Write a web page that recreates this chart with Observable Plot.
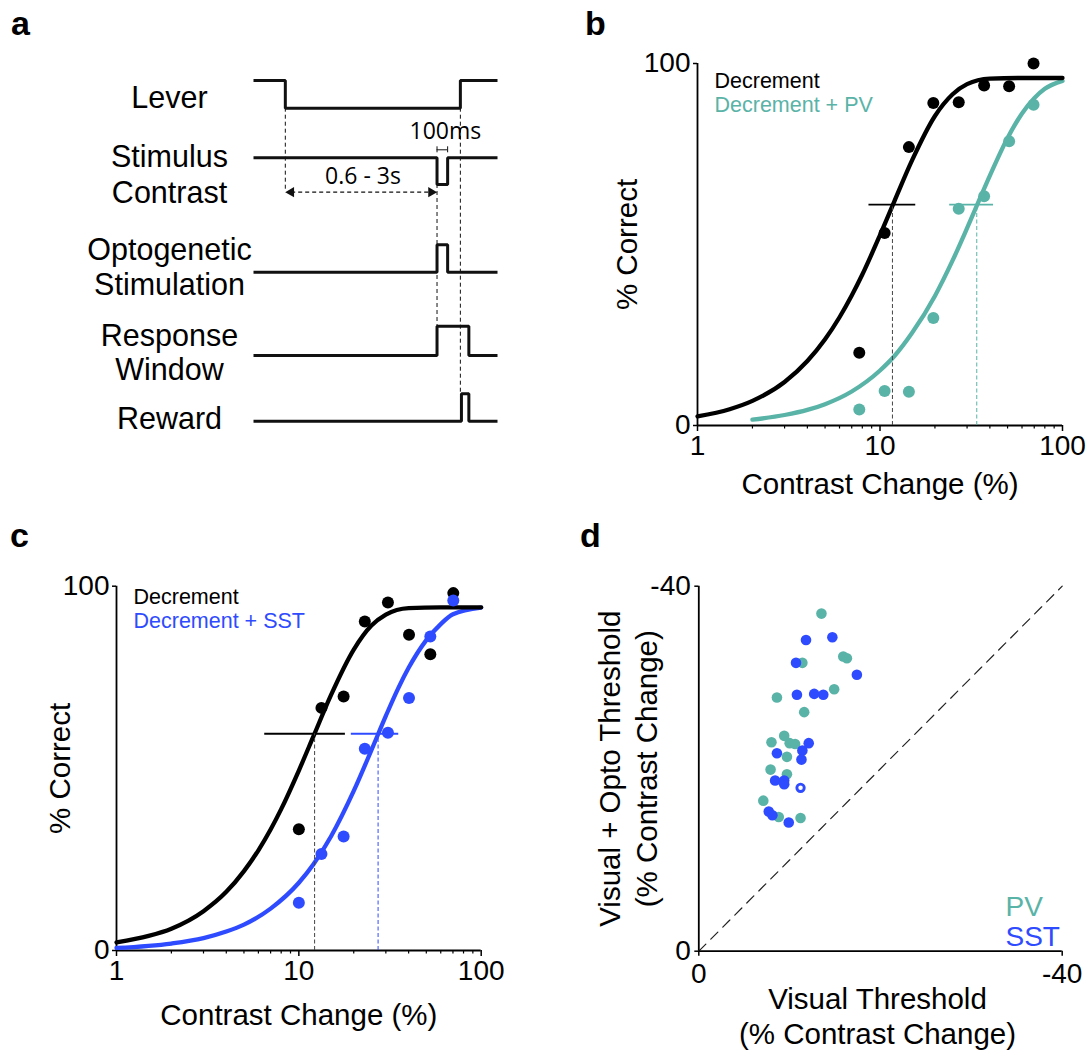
<!DOCTYPE html>
<html>
<head>
<meta charset="utf-8">
<script src="https://cdn.jsdelivr.net/npm/d3@7"></script>
<script src="https://cdn.jsdelivr.net/npm/@observablehq/plot@0.6"></script>
<style>
  body { margin: 0; background: #fff; }
  #fig { position: relative; width: 1090px; height: 1051px; background: #fff;
         font-family: "Liberation Sans", Arial, Helvetica, sans-serif; color: #000; }
  .panel { position: absolute; }
  .letter { position: absolute; font-weight: bold; font-size: 34px; line-height: 34px; }
</style>
</head>
<body>
<div id="fig"></div>
<script>
// ---------------- DATA ----------------
// Panel a: trial structure (time in ms, levels 0/1)
const channelNames = ["Lever", "Stimulus Contrast", "Optogenetic Stimulation", "Response Window", "Reward"];
const leverT  = [0, 300, 300, 1950, 1950, 2300];
const leverV  = [1, 1, 0, 0, 1, 1];
const stimT   = [0, 1730, 1730, 1830, 1830, 2300];
const stimV   = [0, 0, -1, -1, 0, 0];
const optoT   = [0, 1730, 1730, 1830, 1830, 2300];
const optoV   = [0, 0, 1, 1, 0, 0];
const respT   = [0, 1730, 1730, 2030, 2030, 2300];
const respV   = [0, 0, 1, 1, 0, 0];
const rewardT = [0, 1960, 1960, 2030, 2030, 2300];
const rewardV = [0, 0, 1, 1, 0, 0];
const delayWindow = [300, 1730];      // "0.6 - 3s"
const pulseWindow = [1730, 1830];     // "100ms"
const leverReleaseT = 1950;
const delayText = "0.6 - 3s";
const pulseText = "100ms";

// Panel b: contrast (%), % correct
const contrastB = [7.7, 10.6, 14.4, 19.6, 27, 37.2, 51, 69.4];
const decB      = [20.1, 53.2, 76.9, 89.1, 89.3, 93.9, 93.7, 100];
const pvB       = [4.4, 9.5, 9.3, 29.7, 59.9, 63.3, 78.5, 88.6];
// fitted curves
const fitDecBx = [1, 1.5, 2, 3, 4, 5, 6, 7, 8, 10, 12, 15, 20, 25, 30, 40, 60, 100];
const fitDecBy = [2.5, 4.5, 6.8, 12, 17.8, 23.8, 29.9, 35.9, 41.7, 52.6, 62, 73.3, 85.5, 91.5, 94.3, 95.8, 96, 96];
const fitPvBx  = [2, 3, 4, 5, 7, 10, 12, 15, 20, 25, 30, 35, 40, 50, 60, 70, 80, 100];
const fitPvBy  = [1.6, 2.9, 4.3, 5.9, 9.4, 15.2, 19.2, 25.6, 35.8, 45.6, 54.5, 62.3, 69, 79.4, 86.2, 90.4, 93, 95.2];
// thresholds: [CI low, threshold, CI high], level
const thrDecB = [8.7, 11.7, 15.7];
const thrPvB  = [24.1, 33.9, 41.9];
const thrLevelB = 61;

// Panel c
const contrastC = [10, 13.3, 17.6, 23, 30.8, 40.2, 52.6, 70.3];
const decC      = [33.3, 66.6, 69.7, 90.3, 95.5, 86.7, 81.3, 98.1];
const sstC      = [13.1, 26.5, 31.3, 55.4, 59.8, 69.3, 86.2, 96.1];
const fitDecCx = [1, 1.5, 2, 3, 4, 5, 6, 7, 8, 10, 12, 15, 20, 25, 30, 40, 60, 100];
const fitDecCy = [2.2, 4, 6, 10.8, 16.1, 21.8, 27.5, 33.2, 38.8, 49.4, 58.7, 70.1, 82.6, 89.2, 92.2, 94, 94.2, 94.2];
const fitSstCx = [1, 2, 3, 4, 5, 7, 10, 12, 15, 20, 25, 30, 35, 40, 50, 60, 70, 100];
const fitSstCy = [0.7, 1.9, 3.4, 5.2, 7.1, 11.5, 18.6, 23.6, 31.3, 43.8, 55, 64.4, 71.9, 77.6, 85.2, 89.6, 92.3, 94.1];
const thrDecC = [6.5, 12.2, 18.0];
const thrSstC = [19.4, 27.2, 35.3];
const thrLevelC = 59.5;

// Panel d: visual threshold vs visual + opto threshold
const pvVisual = [-13.5, -15.9, -16.3, -11.4, -14.9, -8.6, -11.6, -9.4, -8.0, -10.0, -10.6, -9.7, -7.9, -9.7, -7.1, -8.8, -11.2];
const pvOpto   = [-37.0, -32.3, -32.1, -31.6, -28.7, -27.8, -26.2, -23.6, -22.9, -22.8, -22.7, -21.3, -19.9, -19.4, -16.5, -14.7, -14.6];
const sstVisual = [-11.8, -14.7, -10.7, -17.4, -10.8, -12.7, -13.7, -12.1, -11.4, -11.3, -8.6, -8.4, -9.4, -9.4, -7.7, -8.1, -9.9];
const sstOpto   = [-34.1, -34.4, -31.6, -30.3, -28.1, -28.2, -28.1, -22.8, -22.0, -21.0, -21.7, -18.7, -18.7, -18.3, -15.3, -14.9, -14.1];
const sstOpenVisual = [-11.2];
const sstOpenOpto   = [-17.9];
const unityLine = [0, -40];

// tick labels
const logMajor = [1, 10, 100];
const logMinor = [2, 3, 4, 5, 6, 7, 8, 9, 20, 30, 40, 50, 60, 70, 80, 90];
const pctTicks = [0, 100];
const thrTicks = [0, -40];

// ---------------- STYLE ----------------
const TEAL = "#5ab3a7";
const BLUE = "#2f4bff";
const FONT = "'Liberation Sans', Arial, Helvetica, sans-serif";
const fig = document.getElementById("fig");

function place(el, left, top) {
  const d = document.createElement("div");
  d.className = "panel";
  d.style.left = left + "px";
  d.style.top = top + "px";
  d.appendChild(el);
  fig.appendChild(d);
}
function letter(t, left, top) {
  const d = document.createElement("div");
  d.className = "letter";
  d.textContent = t;
  d.style.left = left + "px";
  d.style.top = top + "px";
  fig.appendChild(d);
}
const zip = (xs, ys, extra = {}) => xs.map((x, i) => ({x, y: ys[i], ...extra}));

// ---------------- PANEL A ----------------
{
  // layout: baseline (page px) and amplitude per channel
  const layout = [
    {base: 107.7, amp: 27.7},
    {base: 157.3, amp: 26.7},
    {base: 271.7, amp: 27.4},
    {base: 355.0, amp: 29.3},
    {base: 420.7, amp: 27.4}
  ];
  const sigs = [[leverT, leverV], [stimT, stimV], [optoT, optoV], [respT, respV], [rewardT, rewardV]];
  const rows = [];
  sigs.forEach(([T, V], i) => T.forEach((t, j) => rows.push({ch: channelNames[i], t, y: layout[i].base - V[j] * layout[i].amp})));
  const labelLines = [
    {t: "Lever", y: 107}, {t: "Stimulus", y: 166}, {t: "Contrast", y: 202},
    {t: "Optogenetic", y: 259}, {t: "Stimulation", y: 294},
    {t: "Response", y: 345}, {t: "Window", y: 379}, {t: "Reward", y: 428}
  ];
  const leverLow = layout[0].base, stimLow = layout[1].base + layout[1].amp;
  const respHigh = layout[3].base - layout[3].amp, rewardHigh = layout[4].base - layout[4].amp;
  const arrowY = 191.7;
  const p = Plot.plot({
    width: 545, height: 460, marginLeft: 253, marginRight: 48, marginTop: 0, marginBottom: 0,
    x: {domain: [0, 2300], axis: null},
    y: {domain: [460, 0], axis: null},
    style: {fontFamily: FONT, fontSize: "30.5px", background: "white", color: "black", overflow: "visible"},
    marks: [
      // dashed guides
      Plot.ruleX([delayWindow[0]], {y1: leverLow, y2: arrowY, stroke: "#111", strokeWidth: 1, strokeDasharray: "4,3"}),
      Plot.ruleX([delayWindow[1]], {y1: stimLow, y2: respHigh, stroke: "#111", strokeWidth: 1, strokeDasharray: "4,3"}),
      Plot.ruleX([leverReleaseT], {y1: leverLow, y2: rewardHigh, stroke: "#111", strokeWidth: 1, strokeDasharray: "4,3"}),
      // delay arrow
      Plot.ruleY([arrowY], {x1: delayWindow[0] + 60, x2: delayWindow[1] - 60, stroke: "#111", strokeWidth: 1.3, strokeDasharray: "4,3"}),
      Plot.dot([delayWindow[0]], {x: d => d, y: arrowY, symbol: "triangle", r: 3.8, rotate: -90, dx: 5.8, fill: "#111", stroke: "none"}),
      Plot.dot([delayWindow[1]], {x: d => d, y: arrowY, symbol: "triangle", r: 3.8, rotate: 90, dx: -5.8, fill: "#111", stroke: "none"}),
      Plot.text([delayText], {x: (delayWindow[0] + delayWindow[1]) / 2 + 17, y: 183, lineAnchor: "bottom", fontFamily: "'Open Sans', sans-serif", fontSize: 23}),
      // 100 ms bracket
      Plot.ruleY([149.3], {x1: pulseWindow[0], x2: pulseWindow[1], stroke: "#111", strokeWidth: 1}),
      Plot.ruleX(pulseWindow, {y1: 146.3, y2: 152.3, stroke: "#111", strokeWidth: 1}),
      Plot.text([pulseText], {x: (pulseWindow[0] + pulseWindow[1]) / 2, dx: 3, y: 138.5, lineAnchor: "bottom", fontFamily: "'Open Sans', sans-serif", fontSize: 23}),
      // traces
      Plot.line(rows, {x: "t", y: "y", z: "ch", stroke: "#111", strokeWidth: 3, strokeLinejoin: "miter", strokeLinecap: "butt"}),
      // labels
      Plot.text(labelLines, {frameAnchor: "left", dx: -84, y: "y", text: "t", textAnchor: "middle", lineAnchor: "bottom"})
    ]
  });
  place(p, 0, 0);
}

// ---------------- PSYCHOMETRIC PANELS ----------------
function psycho(opts) {
  const {left, top, width, height, mL, mR, mT, mB, pts, fits, thr, thrLevel, legend, legendDy, xTitleDy, yTitleDx} = opts;
  const marks = [
    // axis lines
    Plot.ruleX([1], {y1: 0, y2: 100, stroke: "black", strokeWidth: 1.8}),
    Plot.ruleY([0], {x1: 1, x2: 100, stroke: "black", strokeWidth: 1.8}),
    Plot.axisX({ticks: logMajor, tickSize: 6, tickPadding: 4, tickFormat: d => String(d), label: null, strokeWidth: 1.5}),
    Plot.axisX({ticks: logMinor, tickSize: 3.5, tickFormat: () => "", label: null, strokeWidth: 1.2}),
    Plot.axisY({ticks: pctTicks, tickSize: 4, tickPadding: 3, tickFormat: d => String(d), label: null, strokeWidth: 1.5}),
    Plot.text(["Contrast Change (%)"], {frameAnchor: "bottom", dy: xTitleDy, lineAnchor: "bottom", fontSize: 29.5}),
    Plot.text(["% Correct"], {frameAnchor: "left", dx: yTitleDx, rotate: -90, lineAnchor: "middle", textAnchor: "middle", fontSize: 29.5})
  ];
  // fitted curves
  fits.forEach(f => marks.push(Plot.line(zip(f.x, f.y), {x: "x", y: "y", stroke: f.color, strokeWidth: 4.3, curve: "monotone-x"})));
  // threshold bars and dashed drops
  thr.forEach(t => {
    marks.push(Plot.ruleY([thrLevel], {x1: t.v[0], x2: t.v[2], stroke: t.color, strokeWidth: 1.8}));
    marks.push(Plot.ruleX([t.v[1]], {y1: 0, y2: thrLevel, stroke: t.dash, strokeWidth: 1, strokeDasharray: "4,2.5"}));
  });
  // points
  pts.forEach(s => marks.push(Plot.dot(zip(s.x, s.y), {x: "x", y: "y", r: 6, fill: s.color, stroke: "none"})));
  // legend
  legend.forEach((l, i) => marks.push(Plot.text([l.t], {frameAnchor: "top-left", dx: 17, dy: legendDy[i], lineAnchor: "bottom", textAnchor: "start", fill: l.color, fontSize: 21.5})));
  const p = Plot.plot({
    width, height, marginLeft: mL, marginRight: mR, marginTop: mT, marginBottom: mB,
    x: {type: "log", domain: [1, 100]},
    y: {domain: [0, 100]},
    style: {fontFamily: FONT, fontSize: "28px", background: "white", color: "black", overflow: "visible"},
    marks
  });
  place(p, left, top);
}

psycho({
  left: 580, top: 30, width: 510, height: 480, mL: 117, mR: 28, mT: 33, mB: 85,
  pts: [{x: contrastB, y: decB, color: "black"}, {x: contrastB, y: pvB, color: TEAL}],
  fits: [{x: fitPvBx, y: fitPvBy, color: TEAL}, {x: fitDecBx, y: fitDecBy, color: "black"}],
  thr: [{v: thrDecB, color: "black", dash: "#444"}, {v: thrPvB, color: TEAL, dash: TEAL}],
  thrLevel: thrLevelB,
  legend: [{t: "Decrement", color: "black"}, {t: "Decrement + PV", color: TEAL}],
  legendDy: [24, 48.7], xTitleDy: 68, yTitleDx: -69.5
});

psycho({
  left: 0, top: 560, width: 510, height: 491, mL: 116, mR: 29.3, mT: 25.7, mB: 101,
  pts: [{x: contrastC, y: decC, color: "black"}, {x: contrastC, y: sstC, color: BLUE}],
  fits: [{x: fitSstCx, y: fitSstCy, color: BLUE}, {x: fitDecCx, y: fitDecCy, color: "black"}],
  thr: [{v: thrDecC, color: "black", dash: "#444"}, {v: thrSstC, color: BLUE, dash: BLUE}],
  thrLevel: thrLevelC,
  legend: [{t: "Decrement", color: "black"}, {t: "Decrement + SST", color: BLUE}],
  legendDy: [17.5, 41.5], xTitleDy: 74.3, yTitleDx: -56
});

// ---------------- PANEL D ----------------
{
  const p = Plot.plot({
    width: 510, height: 491, marginLeft: 118.3, marginRight: 28.3, marginTop: 25.7, marginBottom: 100.3,
    x: {domain: [0, -40]},
    y: {domain: [0, -40]},
    style: {fontFamily: FONT, fontSize: "28px", background: "white", color: "black", overflow: "visible"},
    marks: [
      Plot.line(unityLine.map(v => ({x: v, y: v})), {x: "x", y: "y", stroke: "#222", strokeWidth: 1.2, strokeDasharray: "10,7"}),
      Plot.ruleX([0], {y1: 0, y2: -40, stroke: "black", strokeWidth: 1.8}),
      Plot.ruleY([0], {x1: 0, x2: -40, stroke: "black", strokeWidth: 1.8}),
      Plot.axisX({ticks: thrTicks, tickSize: 5, tickPadding: 7, tickFormat: d => String(d), label: null, strokeWidth: 1.5}),
      Plot.axisY({ticks: thrTicks, tickSize: 4, tickPadding: 4, tickFormat: d => String(d), label: null, strokeWidth: 1.5}),
      Plot.dot(zip(pvVisual, pvOpto), {x: "x", y: "y", r: 5.3, fill: TEAL, stroke: "none"}),
      Plot.dot(zip(sstVisual, sstOpto), {x: "x", y: "y", r: 5.3, fill: BLUE, stroke: "none"}),
      Plot.dot(zip(sstOpenVisual, sstOpenOpto), {x: "x", y: "y", r: 3.7, fill: "white", stroke: BLUE, strokeWidth: 2.9}),
      Plot.text(["Visual + Opto Threshold"], {frameAnchor: "left", dx: -88.3, rotate: -90, lineAnchor: "middle", textAnchor: "middle", fontSize: 29.5}),
      Plot.text(["(% Contrast Change)"], {frameAnchor: "left", dx: -51.6, rotate: -90, lineAnchor: "middle", textAnchor: "middle", fontSize: 29.5}),
      Plot.text(["Visual Threshold"], {frameAnchor: "bottom", dx: -3, dy: 57.3, lineAnchor: "bottom", fontSize: 29.5}),
      Plot.text(["(% Contrast Change)"], {frameAnchor: "bottom", dx: -3, dy: 92.3, lineAnchor: "bottom", fontSize: 29.5}),
      Plot.text(["PV"], {frameAnchor: "bottom-right", dx: -56.7, dy: -35.7, lineAnchor: "bottom", textAnchor: "start", fill: TEAL, fontSize: 28}),
      Plot.text(["SST"], {frameAnchor: "bottom-right", dx: -56.7, dy: -5.7, lineAnchor: "bottom", textAnchor: "start", fill: BLUE, fontSize: 28})
    ]
  });
  place(p, 580, 560);
}

// panel letters
letter("a", 11, 6);
letter("b", 585, 6);
letter("c", 10, 518);
letter("d", 580, 518);
</script>
</body>
</html>
